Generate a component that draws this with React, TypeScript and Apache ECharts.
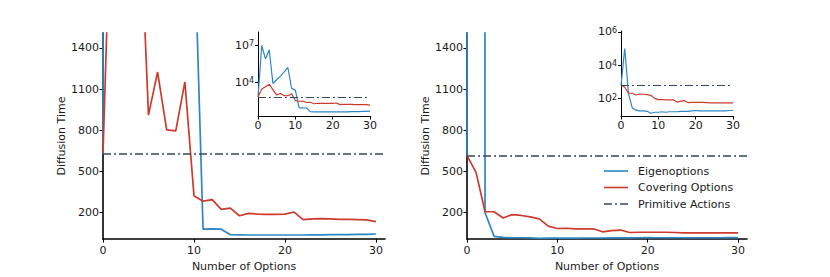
import React, { useEffect, useRef } from 'react';
import * as echarts from 'echarts';

const OPTIONS = [0, 1, 2, 3, 4, 5, 6, 7, 8, 9, 10, 11, 12, 13, 14, 15, 16, 17, 18, 19, 20, 21, 22, 23, 24, 25, 26, 27, 28, 29, 30];

const LEFT_EIGEN = [630, 1.0e7, 8.0e5, 4.5e6, 8000, 16000, 32000, 70000, 160000, 3200, 2300, 80, 82, 80, 40, 39, 38, 38, 38, 38, 38, 38, 38, 39, 39, 40, 40, 41, 42, 43, 45];
const LEFT_COVER = [630, 2800, 4400, 6900, 2500, 910, 1224, 803, 796, 1152, 324, 284, 295, 224, 234, 178, 195, 190, 188, 188, 190, 205, 150, 155, 157, 155, 152, 152, 150, 148, 135];
const LEFT_PRIMITIVE = 630;

const RIGHT_EIGEN = [616, 1.0e5, 200, 28, 20, 18, 18, 17, 13, 15, 15, 16, 15, 16, 16, 16, 17, 17, 17, 18, 19, 18, 18, 18, 18, 18, 18, 18, 18, 19, 19];
const RIGHT_COVER = [616, 494, 207, 207, 162, 186, 180, 170, 155, 102, 85, 87, 83, 83, 83, 61, 69, 74, 56, 58, 58, 58, 58, 56, 54, 54, 54, 54, 54, 54, 54];
const RIGHT_PRIMITIVE = 616;

const MAIN_Y_TICKS = [200, 500, 800, 1100, 1400];
const X_TICKS = [0, 10, 20, 30];
const LEFT_INSET_EXP_TICKS = [4, 7];
const RIGHT_INSET_EXP_TICKS = [2, 4, 6];

const LEGEND_NAMES = ['Eigenoptions', 'Covering Options', 'Primitive Actions'];

const BLUE = '#2f86c6';
const RED = '#cc3b2e';
const SLATE = '#34495e';
const FONT = 'DejaVu Sans';
const TEXT = '#1a1a1a';
const DASHDOT = [8, 3, 2, 3];

const pairs = (vals: number[]) => OPTIONS.map((x, i) => [x, vals[i]]);
const logPairs = (vals: number[]) => OPTIONS.map((x, i) => [x, Math.log10(vals[i])]);

function xAxis(gridIndex: number, max: number, inset: boolean) {
  return {
    type: 'value',
    gridIndex,
    min: 0,
    max,
    name: inset ? '' : 'Number of Options',
    nameLocation: 'middle',
    nameGap: 17,
    nameTextStyle: { fontFamily: FONT, fontSize: 11, color: TEXT },
    axisLine: { show: true, lineStyle: { color: '#000', width: inset ? 1 : 1.6 } },
    axisTick: { show: true, length: 3.5, customValues: X_TICKS, lineStyle: { color: '#000', width: 1 } },
    axisLabel: { customValues: X_TICKS, fontFamily: FONT, fontSize: 11, color: TEXT, margin: inset ? 4 : 6, formatter: (v: number) => String(v) },
    splitLine: { show: false },
  };
}

function yMain(gridIndex: number) {
  return {
    type: 'value',
    gridIndex,
    min: 8,
    max: 1508,
    name: 'Diffusion Time',
    nameLocation: 'middle',
    nameGap: 33,
    nameTextStyle: { fontFamily: FONT, fontSize: 11, color: TEXT },
    axisLine: { show: true, lineStyle: { color: '#000', width: 1.6 } },
    axisTick: { show: true, length: 3.5, customValues: MAIN_Y_TICKS, lineStyle: { color: '#000', width: 1 } },
    axisLabel: { customValues: MAIN_Y_TICKS, fontFamily: FONT, fontSize: 11, color: TEXT, margin: 4, formatter: (v: number) => String(v) },
    splitLine: { show: false },
  };
}

function yInset(gridIndex: number, min: number, max: number, ticks: number[]) {
  return {
    type: 'value',
    gridIndex,
    min,
    max,
    axisLine: { show: true, lineStyle: { color: '#000', width: 1 } },
    axisTick: { show: true, length: 3, customValues: ticks, lineStyle: { color: '#000', width: 1 } },
    axisLabel: {
      customValues: ticks,
      margin: 4,
      formatter: (v: number) => `{b|10}{s|${Math.round(v)}}`,
      rich: {
        b: { fontFamily: FONT, fontSize: 11, color: TEXT, verticalAlign: 'bottom' },
        s: { fontFamily: FONT, fontSize: 8, color: TEXT, verticalAlign: 'top' },
      },
    },
    splitLine: { show: false },
  };
}

function lineSeries(name: string, data: number[][], color: string, xi: number, width: number) {
  return {
    type: 'line',
    name,
    data,
    xAxisIndex: xi,
    yAxisIndex: xi,
    symbol: 'none',
    showSymbol: false,
    clip: true,
    color,
    lineStyle: { color, width },
    z: 3,
  };
}

function primitiveSeries(name: string, value: number, xi: number, width: number) {
  return {
    type: 'line',
    name,
    data: [],
    xAxisIndex: xi,
    yAxisIndex: xi,
    symbol: 'none',
    color: SLATE,
    lineStyle: { color: SLATE, width, type: DASHDOT },
    markLine: {
      silent: true,
      symbol: ['none', 'none'],
      label: { show: false },
      lineStyle: { color: SLATE, width, type: DASHDOT },
      data: [{ yAxis: value }],
    },
    z: 2,
  };
}

function legendGraphic() {
  const colors = [BLUE, RED, SLATE];
  const x0 = 604;
  const y0 = 171;
  const step = 16.5;
  const els: any[] = [];
  LEGEND_NAMES.forEach((name, i) => {
    const y = y0 + i * step;
    els.push({
      type: 'line',
      shape: { x1: x0, y1: y, x2: x0 + 24, y2: y },
      style: { stroke: colors[i], lineWidth: 1.6, lineDash: i === 2 ? DASHDOT : null },
      silent: true,
    });
    els.push({
      type: 'text',
      x: x0 + 34,
      y,
      style: { text: name, fontFamily: FONT, fontSize: 11, fill: TEXT, verticalAlign: 'middle', align: 'left' },
      silent: true,
    });
  });
  return els;
}

export default function App() {
  const ref = useRef<HTMLDivElement>(null);
  useEffect(() => {
    if (!ref.current) return;
    const chart = echarts.init(ref.current, undefined, { renderer: 'svg' });
    chart.setOption({
      animation: false,
      backgroundColor: '#fff',
      textStyle: { fontFamily: FONT },
      grid: [
        { left: 103, top: 33, width: 282, height: 209 },
        { left: 258, top: 32, width: 112, height: 84 },
        { left: 467, top: 33, width: 280, height: 209 },
        { left: 621, top: 31, width: 112, height: 85 },
      ],
      xAxis: [xAxis(0, 31, false), xAxis(1, 30, true), xAxis(2, 31, false), xAxis(3, 30, true)],
      yAxis: [
        yMain(0),
        yInset(1, 1.25, 8.1, LEFT_INSET_EXP_TICKS),
        yMain(2),
        yInset(3, 0.95, 6.05, RIGHT_INSET_EXP_TICKS),
      ],
      graphic: legendGraphic(),
      series: [
        lineSeries('Eigenoptions', pairs(LEFT_EIGEN), BLUE, 0, 1.7),
        lineSeries('Covering Options', pairs(LEFT_COVER), RED, 0, 1.7),
        primitiveSeries('Primitive Actions', LEFT_PRIMITIVE, 0, 1.5),
        lineSeries('Eigenoptions', logPairs(LEFT_EIGEN), BLUE, 1, 1.2),
        lineSeries('Covering Options', logPairs(LEFT_COVER), RED, 1, 1.2),
        primitiveSeries('Primitive Actions', Math.log10(LEFT_PRIMITIVE), 1, 1.2),
        lineSeries('Eigenoptions', pairs(RIGHT_EIGEN), BLUE, 2, 1.7),
        lineSeries('Covering Options', pairs(RIGHT_COVER), RED, 2, 1.7),
        primitiveSeries('Primitive Actions', RIGHT_PRIMITIVE, 2, 1.5),
        lineSeries('Eigenoptions', logPairs(RIGHT_EIGEN), BLUE, 3, 1.2),
        lineSeries('Covering Options', logPairs(RIGHT_COVER), RED, 3, 1.2),
        primitiveSeries('Primitive Actions', Math.log10(RIGHT_PRIMITIVE), 3, 1.2),
      ],
    });
    return () => chart.dispose();
  }, []);
  return <div ref={ref} style={{ width: 830, height: 277, position: 'absolute', left: 0, top: 0 }} />;
}
